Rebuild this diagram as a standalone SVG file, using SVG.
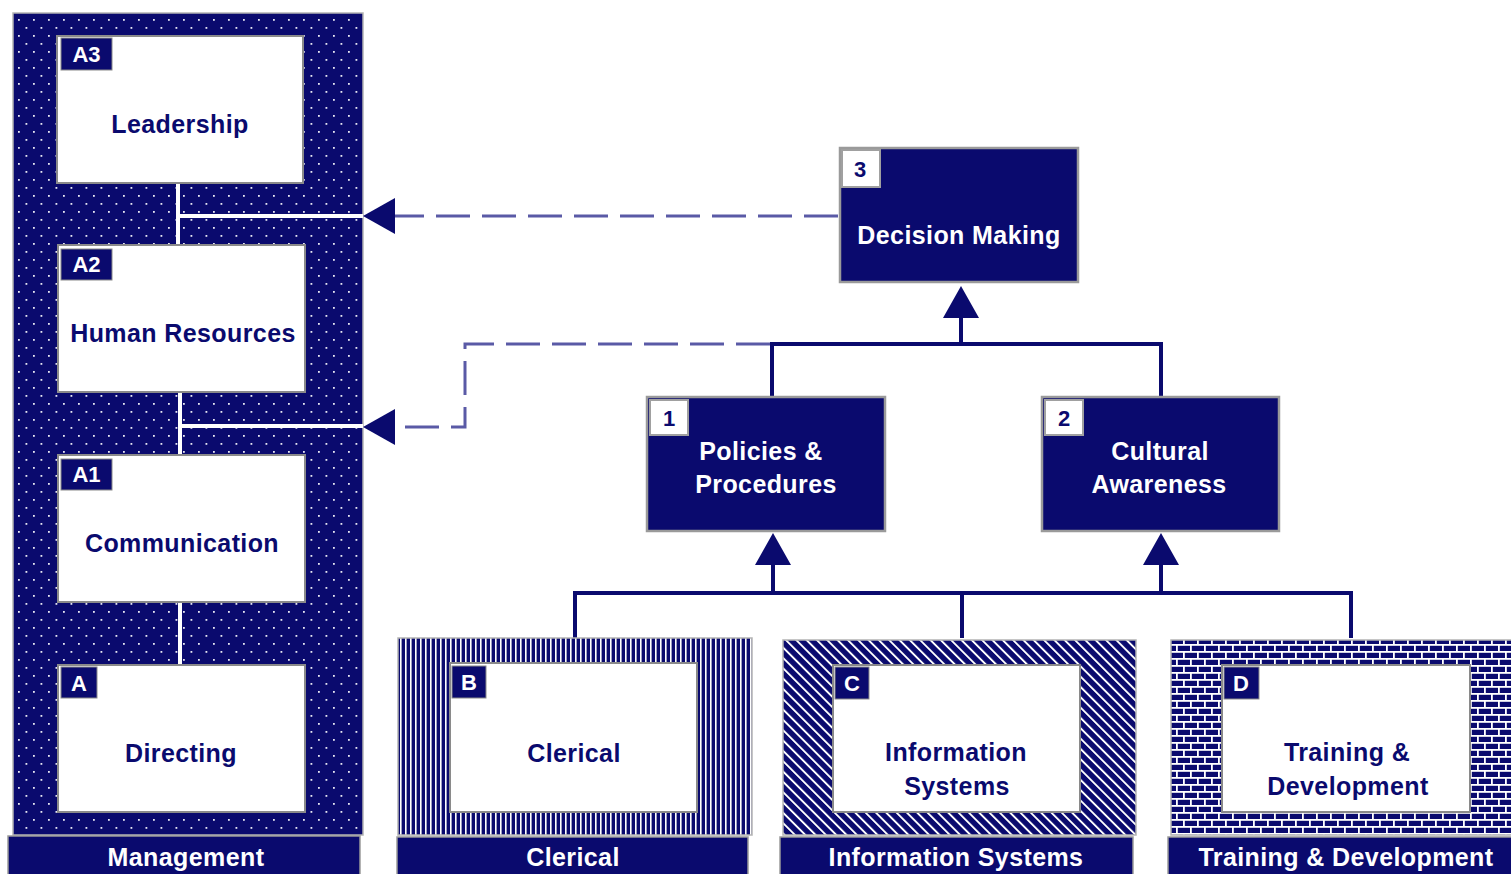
<svg xmlns="http://www.w3.org/2000/svg" width="1511" height="874" viewBox="0 0 1511 874">
  <style>
    .lbl { font-family: "Liberation Sans", Arial, sans-serif; font-weight: bold; font-size: 25px; text-anchor: middle; letter-spacing: 0.4px; }
    .dark { fill: #0a0a6e; }
    .light { fill: #ffffff; }
    .tag { font-family: "Liberation Sans", Arial, sans-serif; font-weight: bold; font-size: 22px; text-anchor: middle; }
    .panel { stroke: #b4b4b4; stroke-width: 1.5; }
    .inner { fill: #ffffff; stroke: #8a8a8a; stroke-width: 2; }
    .navybox { fill: #0a0a6e; stroke: #9a9a9a; stroke-width: 2.5; }
    .tab { fill: #0a0a6e; stroke: #9a9a9a; stroke-width: 1.5; }
    .tagbox { fill: #0a0a6e; stroke: #8a8a8a; stroke-width: 1; }
    .tagwhite { fill: #ffffff; stroke: #a0a0a0; stroke-width: 2; }
    .solid { fill: none; stroke: #0a0a6e; stroke-width: 4; }
    .dash { fill: none; stroke: #5a5aa6; stroke-width: 3; stroke-dasharray: 34 12; }
    .wline { stroke: #ffffff; stroke-width: 4; }
  </style>
  <defs>
    <!-- staggered dot grid -->
    <pattern id="dots" width="15" height="16" patternUnits="userSpaceOnUse">
      <rect width="15" height="16" fill="#0a0a6e"/>
      <rect x="3" y="3" width="1.8" height="1.8" fill="#e6e6f2"/>
      <rect x="10.5" y="11" width="1.8" height="1.8" fill="#e6e6f2"/>
    </pattern>
    <pattern id="vstripes" width="5" height="10" patternUnits="userSpaceOnUse">
      <rect width="5" height="10" fill="#0a0a6e"/>
      <rect x="0" y="0" width="1.6" height="10" fill="#ffffff"/>
    </pattern>
    <pattern id="diag" width="7.3" height="9" patternUnits="userSpaceOnUse" patternTransform="rotate(-45)">
      <rect width="7.3" height="9" fill="#0a0a6e"/>
      <rect x="0" y="0" width="1.9" height="9" fill="#ffffff"/>
    </pattern>
    <pattern id="brick" width="14" height="14" patternUnits="userSpaceOnUse">
      <rect width="14" height="14" fill="#0a0a6e"/>
      <rect x="0" y="0" width="14" height="1.8" fill="#ffffff"/>
      <rect x="0" y="7" width="14" height="1.8" fill="#ffffff"/>
      <rect x="0" y="0" width="1.8" height="7" fill="#ffffff"/>
      <rect x="7" y="7" width="1.8" height="7" fill="#ffffff"/>
    </pattern>
    <marker id="head" viewBox="0 0 32 36" refX="0" refY="18" markerWidth="32" markerHeight="36" markerUnits="userSpaceOnUse" orient="auto">
      <path d="M0,0 L32,18 L0,36 Z" fill="#0a0a6e"/>
    </marker>
  </defs>

  <rect width="1511" height="874" fill="#ffffff"/>

  <!-- Management column -->
  <g id="management">
    <rect class="panel" x="13" y="13" width="350" height="822" fill="url(#dots)"/>
    <line class="wline" x1="178" y1="183" x2="178" y2="245"/>
    <line class="wline" x1="178" y1="216" x2="363" y2="216"/>
    <line class="wline" x1="180" y1="392" x2="180" y2="455"/>
    <line class="wline" x1="180" y1="426" x2="363" y2="426"/>
    <line class="wline" x1="180" y1="602" x2="180" y2="665"/>
    <rect class="tab" x="8" y="836" width="352" height="40"/>
    <text class="lbl light" x="186" y="866">Management</text>
  </g>

  <g id="leadership">
    <rect class="inner" x="57" y="36" width="246" height="147"/>
    <rect class="tagbox" x="61" y="38" width="51" height="32"/>
    <text class="tag light" x="86.5" y="62">A3</text>
    <text class="lbl dark" x="180" y="133">Leadership</text>
  </g>

  <g id="human-resources">
    <rect class="inner" x="58" y="245" width="247" height="147"/>
    <rect class="tagbox" x="61" y="249" width="51" height="31"/>
    <text class="tag light" x="86.5" y="272">A2</text>
    <text class="lbl dark" x="183" y="342">Human Resources</text>
  </g>

  <g id="communication">
    <rect class="inner" x="58" y="455" width="247" height="147"/>
    <rect class="tagbox" x="61" y="459" width="51" height="31"/>
    <text class="tag light" x="86.5" y="482">A1</text>
    <text class="lbl dark" x="182" y="552">Communication</text>
  </g>

  <g id="directing">
    <rect class="inner" x="58" y="665" width="247" height="147"/>
    <rect class="tagbox" x="61" y="667" width="36" height="31"/>
    <text class="tag light" x="79" y="691">A</text>
    <text class="lbl dark" x="181" y="762">Directing</text>
  </g>

  <!-- Connectors -->
  <g id="connectors">
    <path class="dash" d="M838,216 H395" marker-end="url(#head)"/>
    <path class="dash" d="M770,344 H465 V427 H395" marker-end="url(#head)"/>
    <path class="solid" d="M772,397 V344 H1161 V397"/>
    <path class="solid" d="M961,344 V318" marker-end="url(#head)"/>
    <path class="solid" d="M575,638 V593 H1351 V638"/>
    <path class="solid" d="M962,593 V638"/>
    <path class="solid" d="M773,593 V565" marker-end="url(#head)"/>
    <path class="solid" d="M1161,593 V565" marker-end="url(#head)"/>
  </g>

  <g id="decision-making">
    <rect class="navybox" x="840" y="148" width="238" height="134"/>
    <rect class="tagwhite" x="842" y="150" width="38" height="37"/>
    <text class="tag dark" x="860" y="177">3</text>
    <text class="lbl light" x="959" y="244">Decision Making</text>
  </g>

  <g id="policies">
    <rect class="navybox" x="647" y="397" width="238" height="134"/>
    <rect class="tagwhite" x="650" y="400" width="38" height="35"/>
    <text class="tag dark" x="669" y="426">1</text>
    <text class="lbl light" x="761" y="460">Policies &amp;</text>
    <text class="lbl light" x="766" y="493">Procedures</text>
  </g>

  <g id="cultural-awareness">
    <rect class="navybox" x="1042" y="397" width="237" height="134"/>
    <rect class="tagwhite" x="1045" y="400" width="38" height="35"/>
    <text class="tag dark" x="1064" y="426">2</text>
    <text class="lbl light" x="1160" y="460">Cultural</text>
    <text class="lbl light" x="1159" y="493">Awareness</text>
  </g>

  <g id="clerical">
    <rect class="panel" x="398" y="638" width="354" height="197" fill="url(#vstripes)"/>
    <rect class="inner" x="450" y="663" width="247" height="149"/>
    <rect class="tagbox" x="452" y="666" width="34" height="32"/>
    <text class="tag light" x="469" y="690">B</text>
    <text class="lbl dark" x="574" y="762">Clerical</text>
    <rect class="tab" x="397" y="837" width="351" height="39"/>
    <text class="lbl light" x="573" y="866">Clerical</text>
  </g>

  <g id="information-systems">
    <rect class="panel" x="783" y="640" width="353" height="195" fill="url(#diag)"/>
    <rect class="inner" x="833" y="665" width="247" height="147"/>
    <rect class="tagbox" x="835" y="667" width="34" height="32"/>
    <text class="tag light" x="852" y="691">C</text>
    <text class="lbl dark" x="956" y="761">Information</text>
    <text class="lbl dark" x="957" y="795">Systems</text>
    <rect class="tab" x="780" y="837" width="353" height="39"/>
    <text class="lbl light" x="956" y="866">Information Systems</text>
  </g>

  <g id="training-development">
    <rect class="panel" x="1171" y="640" width="342" height="195" fill="url(#brick)"/>
    <rect class="inner" x="1222" y="665" width="248" height="147"/>
    <rect class="tagbox" x="1224" y="667" width="35" height="32"/>
    <text class="tag light" x="1241" y="691">D</text>
    <text class="lbl dark" x="1347" y="761">Training &amp;</text>
    <text class="lbl dark" x="1348" y="795">Development</text>
    <rect class="tab" x="1168" y="837" width="345" height="39"/>
    <text class="lbl light" x="1346" y="866">Training &amp; Development</text>
  </g>
</svg>
